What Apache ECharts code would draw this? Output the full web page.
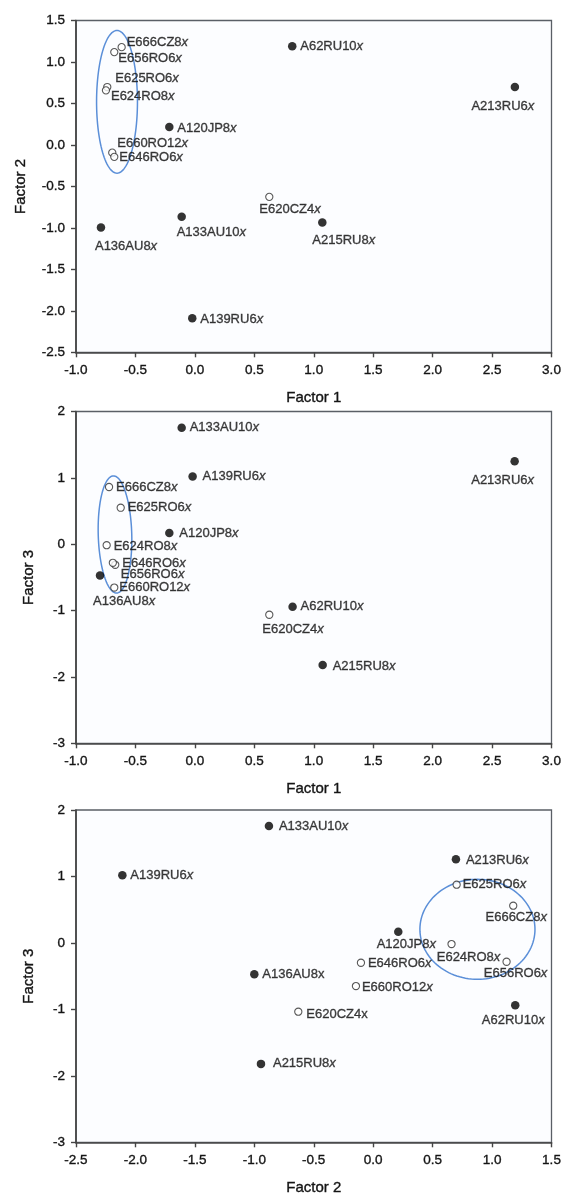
<!DOCTYPE html>
<html>
<head>
<meta charset="utf-8">
<script src="https://cdn.jsdelivr.net/npm/echarts@6/dist/echarts.min.js"></script>
<style>
  html, body { margin: 0; padding: 0; background: #ffffff; }
  #chart { width: 561px; height: 1195px; }
</style>
</head>
<body>
<div id="chart"></div>
<script>
// ---- Panel 1: Factor 1 (x) vs Factor 2 (y) ----
const p1Names   = ['E666CZ8x', 'E656RO6x', 'E625RO6x', 'E624RO8x', 'A120JP8x', 'E660RO12x', 'E646RO6x',
                   'A62RU10x', 'A213RU6x', 'A136AU8x', 'A133AU10x', 'A139RU6x', 'E620CZ4x', 'A215RU8x'];
const p1Factor1 = [-0.616, -0.678, -0.737, -0.748, -0.215, -0.695, -0.678, 0.819, 2.692, -0.790, -0.111, -0.022, 0.626, 1.072];
const p1Factor2 = [1.179, 1.119, 0.698, 0.658, 0.217, -0.093, -0.144, 1.191, 0.698, -0.995, -0.866, -2.09, -0.626, -0.935];

// ---- Panel 2: Factor 1 (x) vs Factor 3 (y) ----
const p2Names   = ['A133AU10x', 'A139RU6x', 'E666CZ8x', 'E625RO6x', 'A120JP8x', 'E624RO8x', 'E646RO6x',
                   'E656RO6x', 'E660RO12x', 'A136AU8x', 'A62RU10x', 'E620CZ4x', 'A215RU8x', 'A213RU6x'];
const p2Factor1 = [-0.111, -0.019, -0.722, -0.624, -0.215, -0.742, -0.670, -0.690, -0.678, -0.798, 0.822, 0.626, 1.075, 2.690];
const p2Factor3 = [1.754, 1.022, 0.862, 0.550, 0.170, -0.015, -0.310, -0.280, -0.653, -0.470, -0.943, -1.063, -1.820, 1.250];

// ---- Panel 3: Factor 2 (x) vs Factor 3 (y) ----
const p3Names   = ['A213RU6x', 'E625RO6x', 'E666CZ8x', 'A120JP8x', 'E624RO8x', 'E656RO6x', 'E646RO6x',
                   'E660RO12x', 'E620CZ4x', 'A62RU10x', 'A133AU10x', 'A139RU6x', 'A136AU8x', 'A215RU8x'];
const p3Factor2 = [0.696, 0.702, 1.178, 0.211, 0.659, 1.122, -0.103, -0.145, -0.630, 1.195, -0.877, -2.110, -1.000, -0.944];
const p3Factor3 = [1.258, 0.876, 0.560, 0.169, -0.017, -0.283, -0.298, -0.649, -1.035, -0.939, 1.759, 1.020, -0.470, -1.820];
// labels in this panel that are set with an upright "x"
const p3UprightX = ['A136AU8x', 'E620CZ4x'];

// Axis ranges: [min, max, interval]
const factor1Range = [-1, 3, 0.5];
const factor2RangeP1 = [-2.5, 1.5, 0.5];
const factor3Range = [-3, 2, 1];
const factor2RangeP3 = [-2.5, 1.5, 0.5];

// Grouping ellipses in data units: [centre x, centre y, radius x, radius y, tilt degrees]
const p1Group = [-0.655, 0.52, 0.172, 0.86, 0];
const p2Group = [-0.672, 0.147, 0.141, 0.883, -1.6];
const p3Group = [0.877, 0.205, 0.484, 0.752, 0];

// Label placement beside each marker: [dx px, dy px, text align]
const p1LabelPlace = [[5, -5, 'left'], [4, 6, 'left'], [8, -9, 'left'], [5, 6, 'left'], [8, 1, 'left'],
                      [5, -9, 'left'], [5, 1, 'left'], [8, 0, 'left'], [-12, 19, 'center'], [-6, 19, 'left'],
                      [-5, 16, 'left'], [8, 1, 'left'], [-10, 13, 'left'], [-10, 18, 'left']];
const p2LabelPlace = [[8, 0, 'left'], [10, 0, 'left'], [7, 0, 'left'], [7, 0, 'left'], [10, 0, 'left'],
                      [7, 1, 'left'], [7, -1, 'left'], [8, 12, 'left'], [5, 0, 'left'], [-7, 26, 'left'],
                      [8, 0, 'left'], [-7, 15, 'left'], [10, 1, 'left'], [-12, 19, 'center']];
const p3LabelPlace = [[10, 1, 'left'], [6, 0, 'left'], [3, 12, 'center'], [8, 13, 'center'], [17, 13, 'center'],
                      [9, 12, 'center'], [7, 1, 'left'], [6, 1, 'left'], [8, 3, 'left'], [-2, 15, 'center'],
                      [10, 0, 'left'], [8, 0, 'left'], [8, 0, 'left'], [12, 0, 'left']];

const FONT = '"Liberation Sans", Arial, Helvetica, sans-serif';
const AXIS_COLOR = '#454545';
const TEXT_COLOR = '#141414';
const GROUP_COLOR = '#5b8fd8';
// a hairline outline in the text colour gives the type a little more weight
const TEXT_WEIGHT = { textBorderColor: TEXT_COLOR, textBorderWidth: 0.35 };

function labelText(name, upright) {
  if (upright) return '{n|' + name + '}';
  return '{n|' + name.slice(0, -1) + '}{i|x}';
}

function pointSeries(gridIdx, names, xs, ys, places, uprightList) {
  const data = names.map((name, k) => {
    const filled = name.charAt(0) === 'A';
    const pl = places[k];
    return {
      name: name,
      value: [xs[k], ys[k]],
      symbolSize: filled ? 8.5 : 7.2,
      itemStyle: filled
        ? { color: '#000000', borderWidth: 0 }
        : { color: '#ffffff', borderColor: '#2e2e2e', borderWidth: 1.1 },
      label: {
        formatter: labelText(name, uprightList.indexOf(name) >= 0),
        offset: [pl[0], pl[1]],
        align: pl[2]
      }
    };
  });
  return {
    type: 'scatter',
    xAxisIndex: gridIdx,
    yAxisIndex: gridIdx,
    symbol: 'circle',
    data: data,
    z: 3,
    silent: true,
    label: {
      show: true,
      position: 'inside',
      verticalAlign: 'middle',
      rich: {
        n: Object.assign({ fontFamily: FONT, fontSize: 13, color: TEXT_COLOR }, TEXT_WEIGHT),
        i: Object.assign({ fontFamily: FONT, fontSize: 13, color: TEXT_COLOR, fontStyle: 'italic' }, TEXT_WEIGHT)
      }
    }
  };
}

function groupSeries(gridIdx, g) {
  return {
    type: 'custom',
    xAxisIndex: gridIdx,
    yAxisIndex: gridIdx,
    silent: true,
    z: 2,
    data: [g],
    encode: { x: 0, y: 1 },
    renderItem: function (params, api) {
      const c = api.coord([api.value(0), api.value(1)]);
      const s = api.size([api.value(2), api.value(3)]);
      const tilt = api.value(4) * Math.PI / 180;
      const pts = [];
      const n = 120;
      for (let k = 0; k < n; k++) {
        const t = 2 * Math.PI * k / n;
        const ex = s[0] * Math.cos(t);
        const ey = s[1] * Math.sin(t);
        pts.push([c[0] + ex * Math.cos(tilt) - ey * Math.sin(tilt),
                  c[1] + ex * Math.sin(tilt) + ey * Math.cos(tilt)]);
      }
      return {
        type: 'polygon',
        shape: { points: pts },
        style: { fill: 'none', stroke: GROUP_COLOR, lineWidth: 1.5 }
      };
    }
  };
}

function xAxisFor(gridIdx, range, title) {
  return {
    type: 'value', gridIndex: gridIdx,
    min: range[0], max: range[1], interval: range[2],
    axisLine: { show: true, onZero: false, lineStyle: { color: AXIS_COLOR, width: 1.7 } },
    axisTick: { show: true, inside: false, length: 5, lineStyle: { color: AXIS_COLOR, width: 1.4 } },
    axisLabel: Object.assign({ show: true, margin: 11, fontFamily: FONT, fontSize: 13.5, color: TEXT_COLOR,
                 formatter: v => v.toFixed(1), showMinLabel: true, showMaxLabel: true }, TEXT_WEIGHT),
    splitLine: { show: false },
    name: title, nameLocation: 'middle', nameGap: 38,
    nameTextStyle: Object.assign({ fontFamily: FONT, fontSize: 15, color: TEXT_COLOR }, TEXT_WEIGHT)
  };
}

function yAxisFor(gridIdx, range, title, decimals, gap) {
  return {
    type: 'value', gridIndex: gridIdx,
    min: range[0], max: range[1], interval: range[2],
    axisLine: { show: true, onZero: false, lineStyle: { color: AXIS_COLOR, width: 1.7 } },
    axisTick: { show: true, inside: false, length: 5, lineStyle: { color: AXIS_COLOR, width: 1.4 } },
    axisLabel: Object.assign({ show: true, margin: 11, fontFamily: FONT, fontSize: 13.5, color: TEXT_COLOR,
                 formatter: v => v.toFixed(decimals), showMinLabel: true, showMaxLabel: true }, TEXT_WEIGHT),
    splitLine: { show: false },
    name: title, nameLocation: 'middle', nameGap: gap,
    nameTextStyle: Object.assign({ fontFamily: FONT, fontSize: 15, color: TEXT_COLOR }, TEXT_WEIGHT)
  };
}

const gridBase = { show: true, borderColor: '#5a5f66', borderWidth: 1.3, backgroundColor: '#fcfdff',
                   containLabel: false, outerBoundsMode: 'none' };

const option = {
  animation: false,
  backgroundColor: '#ffffff',
  grid: [
    Object.assign({ left: 76, top: 20.5, width: 475.5, height: 331.8 }, gridBase),
    Object.assign({ left: 76, top: 411.5, width: 475.5, height: 331.8 }, gridBase),
    Object.assign({ left: 76, top: 810, width: 475.5, height: 332.3 }, gridBase)
  ],
  xAxis: [
    xAxisFor(0, factor1Range, 'Factor 1'),
    xAxisFor(1, factor1Range, 'Factor 1'),
    xAxisFor(2, factor2RangeP3, 'Factor 2')
  ],
  yAxis: [
    yAxisFor(0, factor2RangeP1, 'Factor 2', 1, 48),
    yAxisFor(1, factor3Range, 'Factor 3', 0, 40),
    yAxisFor(2, factor3Range, 'Factor 3', 0, 40)
  ],
  series: [
    groupSeries(0, p1Group),
    groupSeries(1, p2Group),
    groupSeries(2, p3Group),
    pointSeries(0, p1Names, p1Factor1, p1Factor2, p1LabelPlace, []),
    pointSeries(1, p2Names, p2Factor1, p2Factor3, p2LabelPlace, []),
    pointSeries(2, p3Names, p3Factor2, p3Factor3, p3LabelPlace, p3UprightX)
  ]
};

const chart = echarts.init(document.getElementById('chart'), null, { renderer: 'canvas' });
chart.setOption(option);
</script>
</body>
</html>
